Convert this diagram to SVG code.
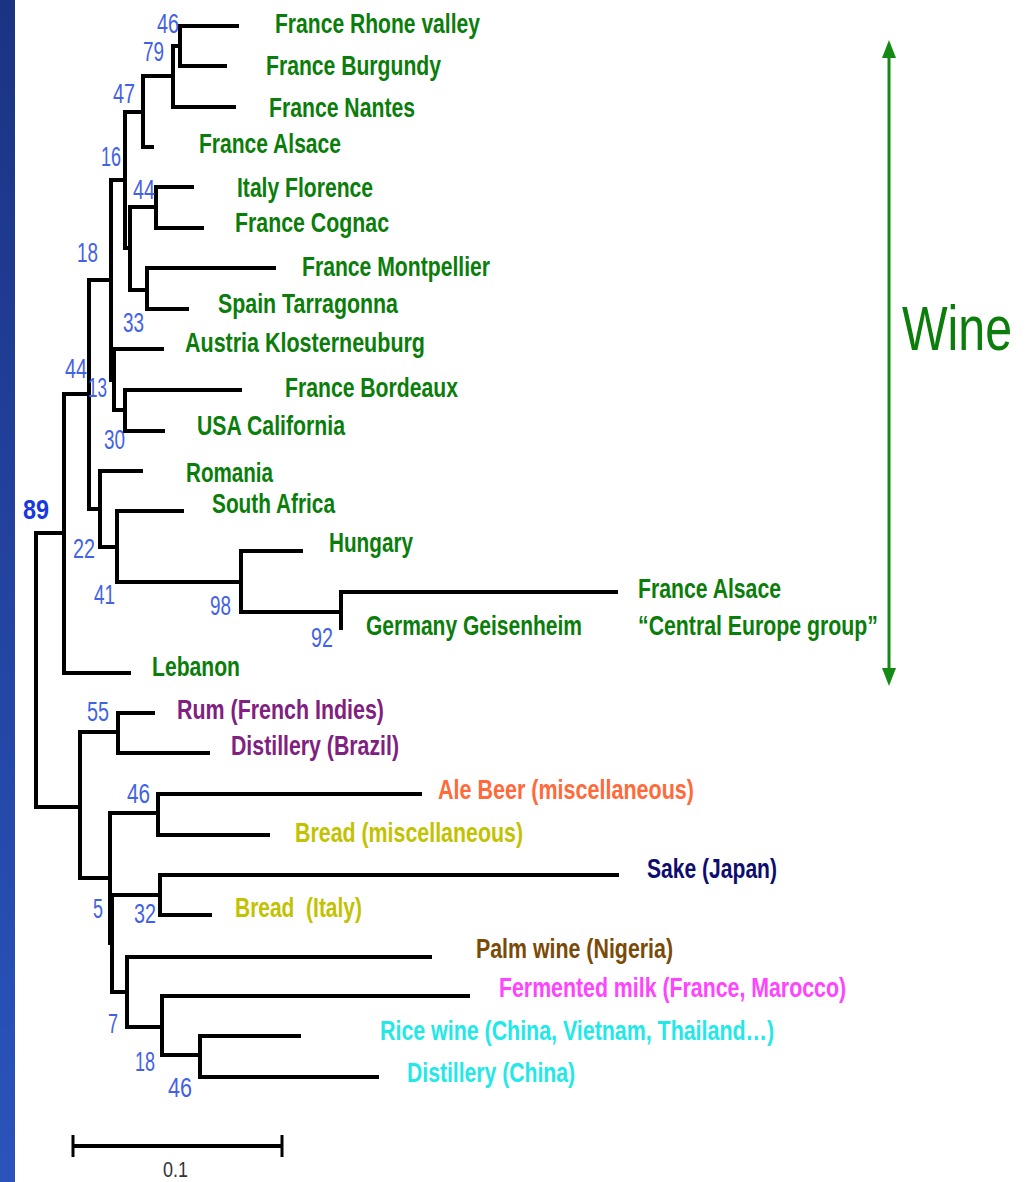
<svg xmlns="http://www.w3.org/2000/svg" width="1032" height="1182" viewBox="0 0 1032 1182">
<defs>
<linearGradient id="bar" x1="0" y1="0" x2="0" y2="1">
<stop offset="0" stop-color="#1b3383"/>
<stop offset="1" stop-color="#2a54bc"/>
</linearGradient>
<style>
.br{fill:none;stroke:#000;stroke-width:4;stroke-linejoin:miter;stroke-linecap:butt}
.lb{font-family:"Liberation Sans",Arial,sans-serif;font-weight:bold;font-size:27px}
.w{fill:#0a7d0a}
.pu{fill:#80207f}
.or{fill:#ff6a3a}
.ye{fill:#c2c200}
.nv{fill:#0d0d70}
.bn{fill:#7a4a06}
.mg{fill:#ff44ff}
.cy{fill:#22e8e8}
.bs{font-family:"Liberation Sans",Arial,sans-serif;font-size:27px;fill:#4262e6}
</style>
</defs>
<rect x="0" y="0" width="1032" height="1182" fill="#fff"/>
<rect x="0" y="0" width="15" height="1182" fill="url(#bar)"/>

<g id="connectors">
<path class="br" d="M239 26 H180 V66 H227"/>
<path class="br" d="M180 46 H173 V107 H236"/>
<path class="br" d="M173 76 H143 V147 H154"/>
<path class="br" d="M194 187 H156 V228 H204"/>
<path class="br" d="M276 268 H147 V309 H189"/>
<path class="br" d="M156 207 H130 V290 H147"/>
<path class="br" d="M143 112 H125 V248 H130"/>
<path class="br" d="M242 390 H125 V431 H165"/>
<path class="br" d="M164 349 H114 V410 H125"/>
<path class="br" d="M125 180 H111 V380 H114"/>
<path class="br" d="M618 592 H341 V630"/>
<path class="br" d="M303 551 H241 V612 H341"/>
<path class="br" d="M184 511 H117 V582 H241"/>
<path class="br" d="M143 471 H100 V547 H117"/>
<path class="br" d="M111 280 H89 V509 H100"/>
<path class="br" d="M89 394 H64 V673 H131"/>
<path class="br" d="M64 533 H36 V807 H80"/>
<path class="br" d="M155 713 H118 V753 H210"/>
<path class="br" d="M118 732 H80 V878 H110"/>
<path class="br" d="M422 794 H158 V835 H270"/>
<path class="br" d="M158 813 H110 V943 H112"/>
<path class="br" d="M619 875 H160 V915 H212"/>
<path class="br" d="M160 895 H112 V992 H127"/>
<path class="br" d="M432 957 H127 V1027 H162"/>
<path class="br" d="M470 996 H162 V1055 H200"/>
<path class="br" d="M301 1036 H200 V1077 H379"/>
</g>

<g id="bootstrap">
<text class="bs" x="157" y="33" textLength="22" lengthAdjust="spacingAndGlyphs">46</text>
<text class="bs" x="143" y="61" textLength="21" lengthAdjust="spacingAndGlyphs">79</text>
<text class="bs" x="113" y="103" textLength="22" lengthAdjust="spacingAndGlyphs">47</text>
<text class="bs" x="101" y="166" textLength="20" lengthAdjust="spacingAndGlyphs">16</text>
<text class="bs" x="133" y="199" textLength="22" lengthAdjust="spacingAndGlyphs">44</text>
<text class="bs" x="77" y="262" textLength="21" lengthAdjust="spacingAndGlyphs">18</text>
<text class="bs" x="123" y="332" textLength="21" lengthAdjust="spacingAndGlyphs">33</text>
<text class="bs" x="65" y="378" textLength="22" lengthAdjust="spacingAndGlyphs">44</text>
<text class="bs" x="88" y="397" textLength="19" lengthAdjust="spacingAndGlyphs">13</text>
<text class="bs" x="104" y="449" textLength="21" lengthAdjust="spacingAndGlyphs">30</text>
<text class="bs" x="23" y="519" textLength="26" lengthAdjust="spacingAndGlyphs" style="font-weight:bold;fill:#1838e0">89</text>
<text class="bs" x="73" y="558" textLength="22" lengthAdjust="spacingAndGlyphs">22</text>
<text class="bs" x="94" y="604" textLength="21" lengthAdjust="spacingAndGlyphs">41</text>
<text class="bs" x="210" y="615" textLength="21" lengthAdjust="spacingAndGlyphs">98</text>
<text class="bs" x="311" y="647" textLength="22" lengthAdjust="spacingAndGlyphs">92</text>
<text class="bs" x="87" y="721" textLength="22" lengthAdjust="spacingAndGlyphs">55</text>
<text class="bs" x="127" y="803" textLength="23" lengthAdjust="spacingAndGlyphs">46</text>
<text class="bs" x="93" y="918" textLength="10" lengthAdjust="spacingAndGlyphs">5</text>
<text class="bs" x="134" y="923" textLength="22" lengthAdjust="spacingAndGlyphs">32</text>
<text class="bs" x="108" y="1033" textLength="10" lengthAdjust="spacingAndGlyphs">7</text>
<text class="bs" x="135" y="1071" textLength="20" lengthAdjust="spacingAndGlyphs">18</text>
<text class="bs" x="168" y="1097" textLength="24" lengthAdjust="spacingAndGlyphs">46</text>
</g>

<g id="leaf-rhone"><text class="lb w" x="275" y="33" textLength="205" lengthAdjust="spacingAndGlyphs">France Rhone valley</text></g>
<g id="leaf-burgundy"><text class="lb w" x="266" y="75" textLength="175" lengthAdjust="spacingAndGlyphs">France Burgundy</text></g>
<g id="leaf-nantes"><text class="lb w" x="269" y="117" textLength="146" lengthAdjust="spacingAndGlyphs">France Nantes</text></g>
<g id="leaf-alsace"><text class="lb w" x="199" y="153" textLength="142" lengthAdjust="spacingAndGlyphs">France Alsace</text></g>
<g id="leaf-florence"><text class="lb w" x="237" y="197" textLength="136" lengthAdjust="spacingAndGlyphs">Italy Florence</text></g>
<g id="leaf-cognac"><text class="lb w" x="235" y="232" textLength="154" lengthAdjust="spacingAndGlyphs">France Cognac</text></g>
<g id="leaf-montpellier"><text class="lb w" x="302" y="276" textLength="188" lengthAdjust="spacingAndGlyphs">France Montpellier</text></g>
<g id="leaf-tarragonna"><text class="lb w" x="218" y="313" textLength="180" lengthAdjust="spacingAndGlyphs">Spain Tarragonna</text></g>
<g id="leaf-klosterneuburg"><text class="lb w" x="185" y="352" textLength="240" lengthAdjust="spacingAndGlyphs">Austria Klosterneuburg</text></g>
<g id="leaf-bordeaux"><text class="lb w" x="285" y="397" textLength="173" lengthAdjust="spacingAndGlyphs">France Bordeaux</text></g>
<g id="leaf-california"><text class="lb w" x="197" y="435" textLength="148" lengthAdjust="spacingAndGlyphs">USA California</text></g>
<g id="leaf-romania"><text class="lb w" x="186" y="482" textLength="87" lengthAdjust="spacingAndGlyphs">Romania</text></g>
<g id="leaf-southafrica"><text class="lb w" x="212" y="513" textLength="123" lengthAdjust="spacingAndGlyphs">South Africa</text></g>
<g id="leaf-hungary"><text class="lb w" x="329" y="552" textLength="84" lengthAdjust="spacingAndGlyphs">Hungary</text></g>
<g id="leaf-alsace2">
<text class="lb w" x="638" y="598" textLength="143" lengthAdjust="spacingAndGlyphs">France Alsace</text>
<text class="lb w" x="638" y="635" textLength="240" lengthAdjust="spacingAndGlyphs">“Central Europe group”</text>
</g>
<g id="leaf-geisenheim"><text class="lb w" x="366" y="635" textLength="216" lengthAdjust="spacingAndGlyphs">Germany Geisenheim</text></g>
<g id="leaf-lebanon"><text class="lb w" x="152" y="676" textLength="88" lengthAdjust="spacingAndGlyphs">Lebanon</text></g>
<g id="leaf-rum"><text class="lb pu" x="177" y="719" textLength="207" lengthAdjust="spacingAndGlyphs">Rum (French Indies)</text></g>
<g id="leaf-distillery-brazil"><text class="lb pu" x="231" y="755" textLength="168" lengthAdjust="spacingAndGlyphs">Distillery (Brazil)</text></g>
<g id="leaf-ale"><text class="lb or" x="438" y="799" textLength="256" lengthAdjust="spacingAndGlyphs">Ale Beer (miscellaneous)</text></g>
<g id="leaf-bread-misc"><text class="lb ye" x="295" y="842" textLength="228" lengthAdjust="spacingAndGlyphs">Bread (miscellaneous)</text></g>
<g id="leaf-sake"><text class="lb nv" x="647" y="878" textLength="130" lengthAdjust="spacingAndGlyphs">Sake (Japan)</text></g>
<g id="leaf-bread-italy"><text class="lb ye" x="235" y="917" textLength="127" lengthAdjust="spacingAndGlyphs" xml:space="preserve">Bread  (Italy)</text></g>
<g id="leaf-palm"><text class="lb bn" x="476" y="958" textLength="197" lengthAdjust="spacingAndGlyphs">Palm wine (Nigeria)</text></g>
<g id="leaf-milk"><text class="lb mg" x="499" y="997" textLength="347" lengthAdjust="spacingAndGlyphs">Fermented milk (France, Marocco)</text></g>
<g id="leaf-rice"><text class="lb cy" x="380" y="1040" textLength="394" lengthAdjust="spacingAndGlyphs">Rice wine (China, Vietnam, Thailand…)</text></g>
<g id="leaf-distillery-china"><text class="lb cy" x="407" y="1082" textLength="168" lengthAdjust="spacingAndGlyphs">Distillery (China)</text></g>

<g id="wine-range">
<line x1="889" y1="54" x2="889" y2="672" stroke="#138a13" stroke-width="3"/>
<polygon points="889,40 882,58 896,58" fill="#138a13"/>
<polygon points="889,686 882,668 896,668" fill="#138a13"/>
<text transform="translate(902,350) scale(1,1.25)" x="0" y="0" textLength="110" lengthAdjust="spacingAndGlyphs" style="font-family:'Liberation Sans',Arial,sans-serif;font-size:50px;fill:#0a7d0a">Wine</text>
</g>

<g id="scale-bar">
<line x1="73" y1="1146" x2="282" y2="1146" stroke="#000" stroke-width="4"/>
<line x1="73" y1="1135" x2="73" y2="1157" stroke="#000" stroke-width="3"/>
<line x1="282" y1="1135" x2="282" y2="1157" stroke="#000" stroke-width="3"/>
<text x="163" y="1177" textLength="25" lengthAdjust="spacingAndGlyphs" style="font-family:'Liberation Sans',Arial,sans-serif;font-size:22px;fill:#333">0.1</text>
</g>
</svg>
